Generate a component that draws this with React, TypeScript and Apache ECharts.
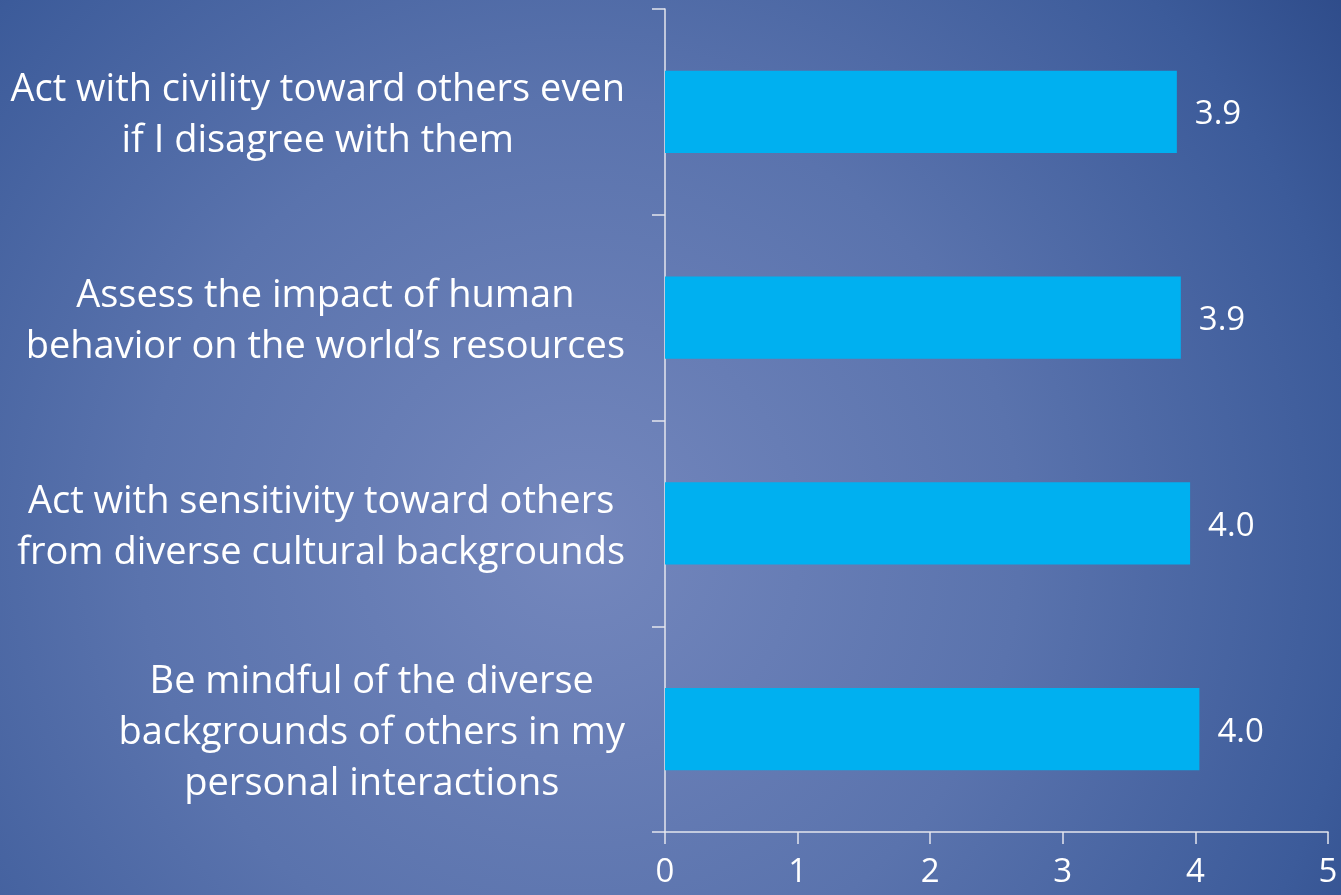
import React, { useEffect, useRef } from "react";
import * as echarts from "echarts";

const categories: string[][] = [
  ["Act with civility toward others even", "if I disagree with them"],
  ["Assess the impact of human", "behavior on the world\u2019s resources"],
  ["Act with sensitivity toward others", "from diverse cultural backgrounds"],
  ["Be mindful of the diverse", "backgrounds of others in my", "personal interactions"],
];
const values: number[] = [3.86, 3.89, 3.96, 4.03];
const xTicks: number[] = [0, 1, 2, 3, 4, 5];

const FONT = "Open Sans";

export default function App() {
  const ref = useRef<HTMLDivElement>(null);
  useEffect(() => {
    document.body.style.margin = "0";
    if (!ref.current) return;
    const chart = echarts.init(ref.current, null, { renderer: "svg" });
    const catNames = categories.map((lines) => lines.join("\n"));
    chart.setOption({
      animation: false,
      backgroundColor: "transparent",
      grid: { left: 665, right: 13, top: 9, bottom: 63, containLabel: false },
      xAxis: {
        type: "value",
        min: xTicks[0],
        max: xTicks[xTicks.length - 1],
        interval: 1,
        splitLine: { show: false },
        axisLine: { show: true, lineStyle: { color: "#e4e6ee", width: 1.5 } },
        axisTick: { show: true, length: 12, lineStyle: { color: "#e4e6ee", width: 1.5 } },
        axisLabel: {
          color: "#ffffff",
          fontFamily: FONT,
          fontSize: 33,
          lineHeight: 33,
          margin: 21,
        },
      },
      yAxis: {
        type: "category",
        inverse: true,
        data: catNames,
        axisLine: { show: true, lineStyle: { color: "#e4e6ee", width: 1.5 } },
        axisTick: { show: true, length: 13, lineStyle: { color: "#e4e6ee", width: 1.5 } },
        axisLabel: {
          margin: 40,
          align: "right",
          formatter: (v: string) =>
            v
              .split("\n")
              .map((l) => `{c|${l}}`)
              .join("\n"),
          rich: {
            c: {
              color: "#ffffff",
              fontFamily: FONT,
              fontSize: 38,
              lineHeight: 51,
              align: "center",
            },
          },
        },
      },
      series: [
        {
          type: "bar",
          data: values,
          barWidth: "40%",
          itemStyle: { color: "#00b0f0" },
          label: {
            show: true,
            position: "right",
            distance: 18,
            color: "#ffffff",
            fontFamily: FONT,
            fontSize: 33,
            formatter: (p: any) => Number(p.value).toFixed(1),
          },
        },
      ],
    });
    return () => chart.dispose();
  }, []);
  return (
    <div
      style={{
        position: "fixed",
        left: 0,
        top: 0,
        width: 1341,
        height: 895,
        background:
          "radial-gradient(circle 980px at 580px 540px, #7487bd 0%, #5a73ad 45%, #3c5b9a 80%, #2b4886 100%)",
      }}
    >
      <div ref={ref} style={{ width: 1341, height: 895 }} />
    </div>
  );
}
